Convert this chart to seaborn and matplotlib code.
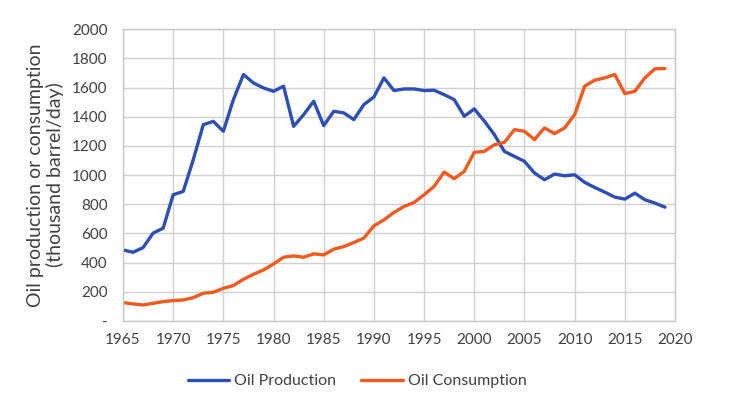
import matplotlib
matplotlib.use("Agg")
import matplotlib.pyplot as plt
import seaborn as sns
import pandas as pd
import numpy as np

years = list(range(1965, 2020))
production = [487, 471, 503, 602, 636, 865, 888, 1105, 1345, 1368,
              1300, 1517, 1689, 1631, 1597, 1574, 1609, 1334, 1414, 1506,
              1339, 1437, 1426, 1380, 1483, 1535, 1666, 1579, 1590, 1590,
              1579, 1581, 1551, 1517, 1403, 1453, 1370, 1277, 1162, 1128,
              1094, 1014, 968, 1007, 995, 1002, 950, 915, 883, 849,
              835, 876, 831, 808, 780]
consumption = [126, 117, 110, 121, 133, 140, 144, 160, 190, 197,
               224, 243, 286, 320, 350, 391, 437, 446, 437, 460,
               453, 492, 510, 538, 568, 652, 693, 744, 785, 812,
               865, 922, 1021, 975, 1025, 1156, 1162, 1208, 1224, 1311,
               1300, 1243, 1323, 1284, 1323, 1414, 1609, 1650, 1666, 1689,
               1558, 1574, 1666, 1728, 1730]
series_names = ["Oil Production", "Oil Consumption"]
x_ticks = list(range(1965, 2021, 5))
y_ticks = list(range(0, 2001, 200))
y_tick_labels = ["-"] + [str(v) for v in y_ticks[1:]]

df = pd.DataFrame({
    "Year": years * 2,
    "Value": production + consumption,
    "Series": [series_names[0]] * len(years) + [series_names[1]] * len(years),
})

sns.set_theme(style="white")
plt.rcParams["font.family"] = ["Lato", "DejaVu Sans"]

fig = plt.figure(figsize=(7.5, 3.99), dpi=100)
ax = fig.add_axes([0.164, 0.1955, 0.736, 0.7315])

palette = {"Oil Production": "#2D4EB5", "Oil Consumption": "#F05A1E"}
sns.lineplot(data=df, x="Year", y="Value", hue="Series", palette=palette,
             linewidth=2.4, ax=ax, legend=True)

ax.set_xlim(1965, 2020)
ax.set_ylim(0, 2000)
ax.set_xticks(x_ticks)
ax.set_yticks(y_ticks)
ax.set_yticklabels(y_tick_labels)
ax.grid(True, color="#D0D0D0", linewidth=1.0)
ax.set_axisbelow(True)
for s in ax.spines.values():
    s.set_color("#C8C8C8")
    s.set_linewidth(1.0)
ax.tick_params(axis="y", length=0, labelsize=11, colors="#404040", pad=11)
ax.tick_params(axis="x", length=0, labelsize=11, colors="#404040", pad=9)
ax.set_xlabel("")
ax.set_ylabel("Oil production or consumption\n(thousand barrel/day)",
              fontsize=14, color="#404040", linespacing=1.1)
ax.yaxis.set_label_coords((64 - 123) / 552, 0.5)

leg = ax.legend(loc="center", bbox_to_anchor=(357 / 750, 1 - 381 / 399),
                bbox_transform=fig.transFigure, ncol=2, frameon=False,
                fontsize=11.5, handlelength=2.6, columnspacing=1.6,
                handletextpad=0.3)
for t in leg.get_texts():
    t.set_color("#404040")

fig.savefig("out.png", dpi=100)
